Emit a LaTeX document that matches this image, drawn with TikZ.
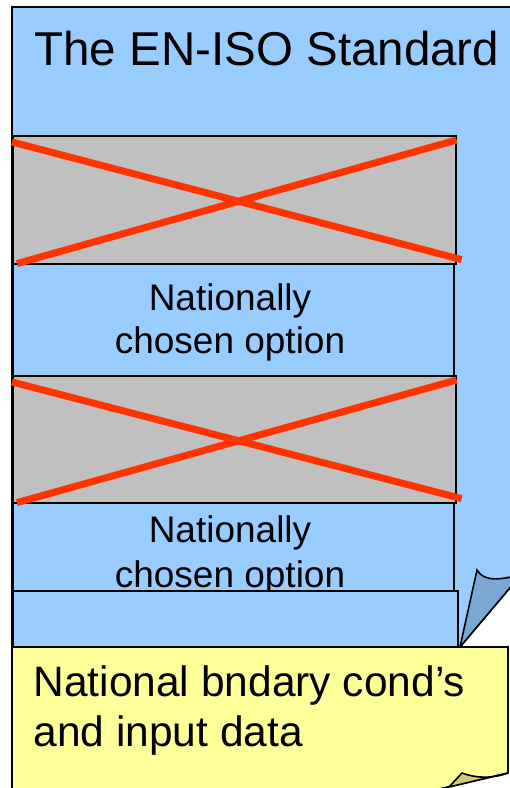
\documentclass[tikz,border=0pt]{standalone}
\usepackage{fontspec}
\setmainfont{Liberation Sans}
\usetikzlibrary{positioning}

\definecolor{pageblue}{HTML}{99CCFF}
\definecolor{curlblue}{HTML}{7AA7D4}
\definecolor{optgray}{HTML}{C0C0C0}
\definecolor{crossred}{HTML}{FF3300}
\definecolor{noteyellow}{HTML}{FFFF99}
\definecolor{curlyellow}{HTML}{D2C878}

\begin{document}
\begin{tikzpicture}[x=1pt,y=-1pt,
    edge/.style={draw=black,line width=1.6pt},
    blk/.style={edge,inner sep=0pt,anchor=north west},
    natbox/.style={blk,fill=pageblue},
    optbox/.style={blk,fill=optgray},
    cross/.style={draw=crossred,line width=7pt},
    nattext/.style={align=center,font=\fontsize{37}{43}\selectfont}]
  \useasboundingbox (0,0) rectangle (510,788);

  % the standard, with its folded corner
  \path[edge,fill=pageblue] (12,7) -- (530,7) -- (530,564) -- (460,647) -- (12,647) -- cycle;
  \path[edge,fill=curlblue] (460,647) -- (477,570) .. controls (484,582) and (500,581) .. (530,572) -- (530,564) -- cycle;
  \node[anchor=base west,font=\fontsize{47.5}{50}\selectfont] (title) at (31,65) {The EN-ISO Standard};

  % options
  \node[optbox,minimum width=443pt,minimum height=128pt] (optA) at (12,135) {};
  \node[natbox,minimum width=441pt,minimum height=112pt] (natA) at (12,263) {};
  \node[nattext] (txtA) at (230,322) {Nationally\\chosen option};
  \node[optbox,minimum width=443pt,minimum height=127pt] (optB) at (12,375) {};
  \node[natbox,minimum width=441pt,minimum height=88pt] (natB) at (12,502) {};
  \node[nattext,font=\fontsize{37}{45}\selectfont] (txtB) at (230,555) {Nationally\\chosen option};
  \node[natbox,minimum width=445pt,minimum height=57pt] (strip) at (12,590) {};

  % struck out
  \draw[cross] ([yshift=-7pt]optA.north west) -- ([xshift=5pt,yshift=5pt]optA.south east);
  \draw[cross] ([xshift=5pt,yshift=1pt]optA.south west) -- ([yshift=-5pt]optA.north east);
  \draw[cross] ([yshift=-7pt]optB.north west) -- ([xshift=5pt,yshift=5pt]optB.south east);
  \draw[cross] ([xshift=5pt,yshift=1pt]optB.south west) -- ([yshift=-5pt]optB.north east);

  % national note
  \path[edge,fill=noteyellow] (12,647) -- (508,647) -- (508,773) -- (426,792) -- (12,792) -- cycle;
  \path[edge,fill=curlyellow] (449,787) -- (462,773) .. controls (478,779) and (495,778) .. (508,773) -- cycle;
  \node[anchor=west,align=left,font=\fontsize{42.5}{50}\selectfont] (note) at (30,711) {National bndary cond’s\\and input data};
\end{tikzpicture}
\end{document}
